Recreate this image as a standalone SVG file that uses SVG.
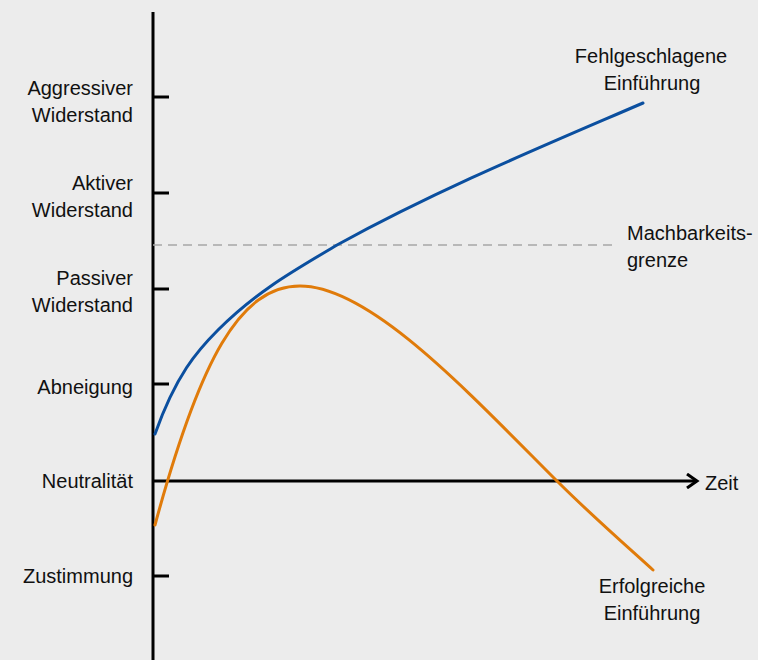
<svg xmlns="http://www.w3.org/2000/svg" width="758" height="660" viewBox="0 0 758 660">
<defs>
<style>
text{font-family:"Liberation Sans",Arial,sans-serif;font-size:20px;fill:#111}
.r{text-anchor:end}
.m{text-anchor:middle}
.ax{stroke:#000;stroke-width:3;fill:none}
.curve{fill:none;stroke-width:3;stroke-linecap:round}
</style>
<marker id="arr" viewBox="0 0 14 16" refX="11" refY="8" markerWidth="14" markerHeight="16" markerUnits="userSpaceOnUse" orient="auto">
<path d="M1,1 L11,8 L1,15" fill="none" stroke="#000" stroke-width="3"/>
</marker>
</defs>
<rect width="758" height="660" fill="#ececec"/>
<g id="axes">
<line class="ax" x1="153" y1="12" x2="153" y2="660"/>
<line class="ax" x1="153" y1="481" x2="697" y2="481" marker-end="url(#arr)"/>
<line class="ax" x1="153" y1="97" x2="169" y2="97"/>
<line class="ax" x1="153" y1="193" x2="169" y2="193"/>
<line class="ax" x1="153" y1="289" x2="169" y2="289"/>
<line class="ax" x1="153" y1="384" x2="169" y2="384"/>
<line class="ax" x1="153" y1="576" x2="169" y2="576"/>
</g>
<g id="limit">
<line x1="153" y1="245" x2="614" y2="245" stroke="#a6a6a6" stroke-width="1.6" stroke-dasharray="9 6"/>
</g>
<g id="connectors">
<path id="failed" class="curve" stroke="#0b4f9f" d="M155,434 C176,375 197,351 218,330 C258,290 297,269 337,245 C439,189 541,147 643,103"/>
<path id="success" class="curve" stroke="#e07b0a" d="M155,525 C200,359 240,286 300,286 C370,286 467,391 557,481 C589,513 621,541 653,570"/>
</g>
<g id="y-labels">
<text class="r" x="133" y="95">Aggressiver</text>
<text class="r" x="133" y="122">Widerstand</text>
<text class="r" x="133" y="190">Aktiver</text>
<text class="r" x="133" y="217">Widerstand</text>
<text class="r" x="133" y="285">Passiver</text>
<text class="r" x="133" y="312">Widerstand</text>
<text class="r" x="133" y="394">Abneigung</text>
<text class="r" x="133" y="488">Neutralität</text>
<text class="r" x="133" y="583">Zustimmung</text>
</g>
<g id="label-zeit"><text x="705" y="490">Zeit</text></g>
<g id="label-failed">
<text class="m" x="651" y="63">Fehlgeschlagene</text>
<text class="m" x="652" y="90">Einführung</text>
</g>
<g id="label-limit">
<text x="627" y="240">Machbarkeits-</text>
<text x="627" y="267">grenze</text>
</g>
<g id="label-success">
<text class="m" x="652" y="593">Erfolgreiche</text>
<text class="m" x="652" y="620">Einführung</text>
</g>
</svg>
